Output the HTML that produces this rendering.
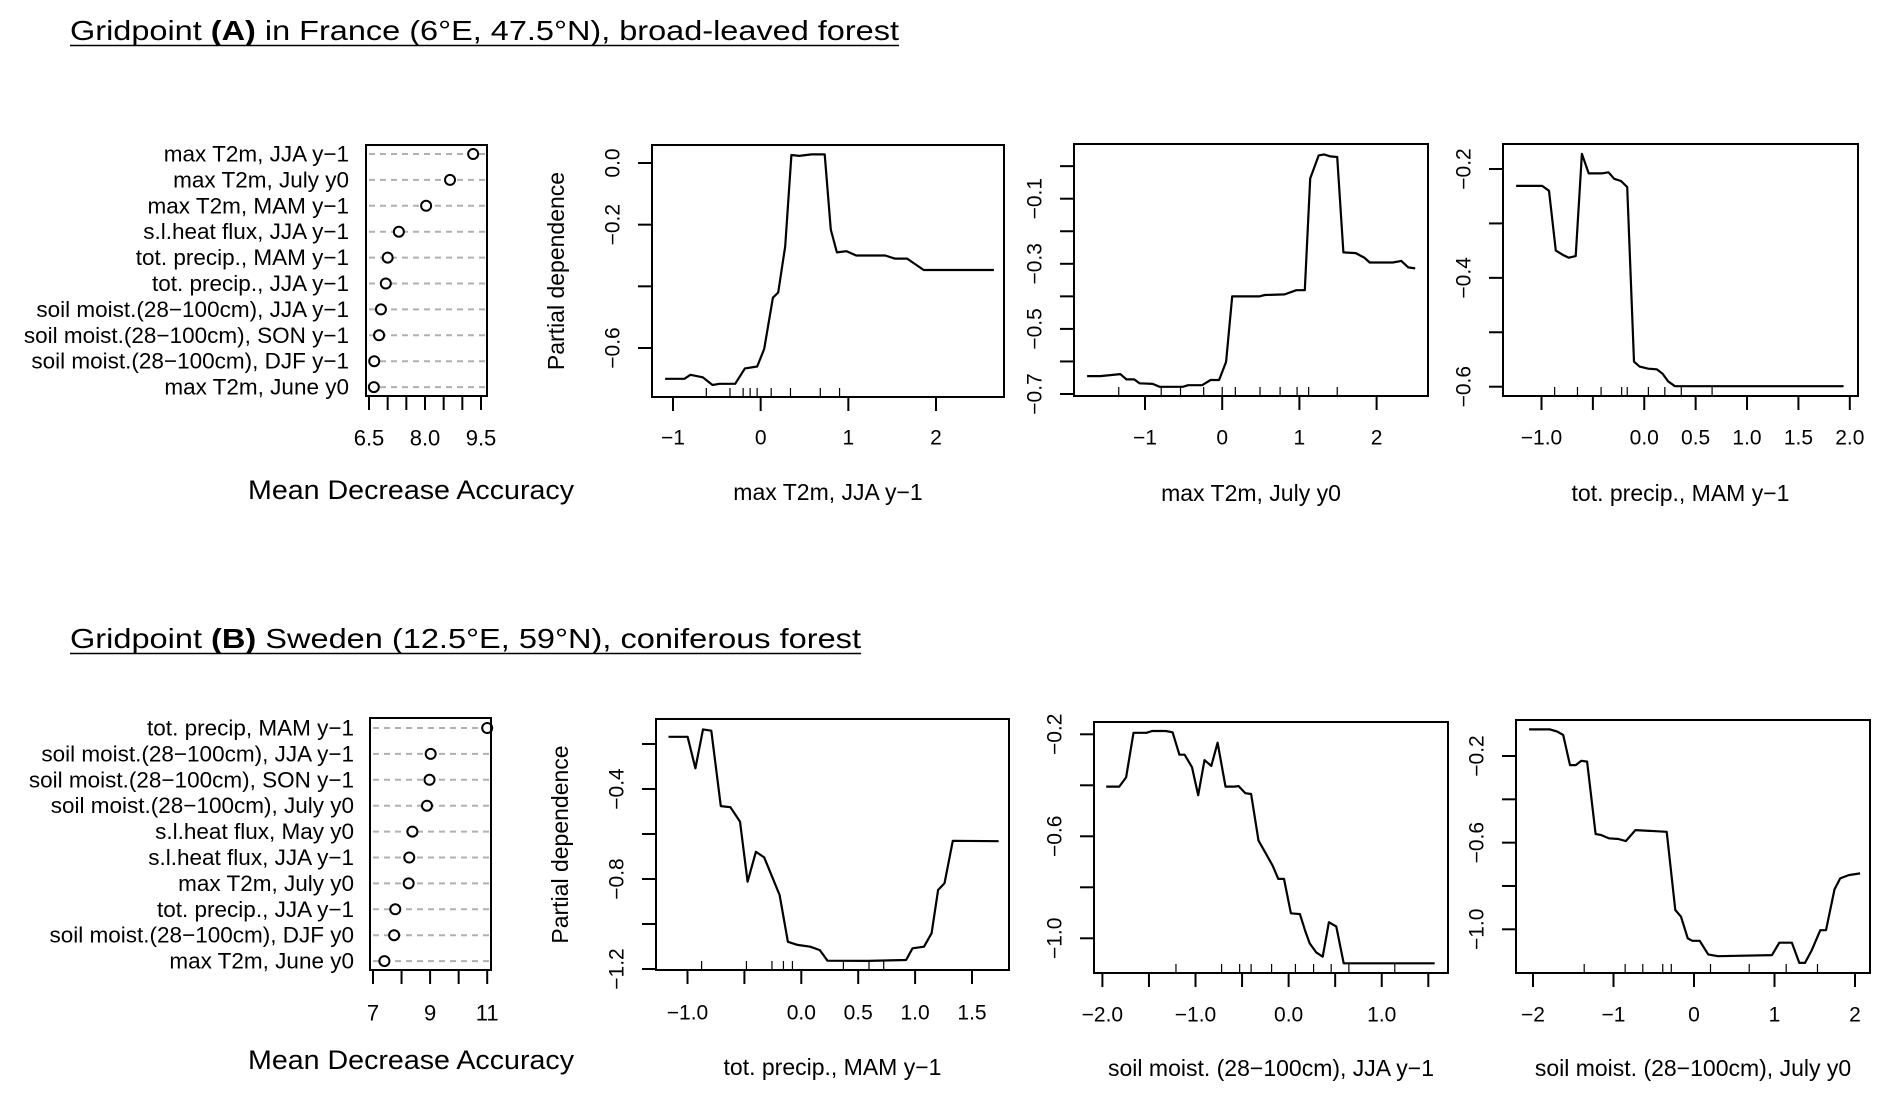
<!DOCTYPE html>
<html><head><meta charset="utf-8"><style>
html,body{margin:0;padding:0;background:#fff;}
svg{display:block;font-family:"Liberation Sans",Arial,sans-serif;}
</style></head><body>
<svg id="fig" width="1892" height="1101" viewBox="0 0 1892 1101" xmlns="http://www.w3.org/2000/svg">
<rect width="1892" height="1101" fill="#fff"/>
<text x="70" y="40" font-size="28" textLength="829" lengthAdjust="spacingAndGlyphs">Gridpoint <tspan font-weight="bold">(A)</tspan> in France (6°E, 47.5°N), broad-leaved forest</text>
<line x1="70" y1="45.5" x2="899" y2="45.5" stroke="#000" stroke-width="1.5"/>
<text x="70" y="648" font-size="28" textLength="791" lengthAdjust="spacingAndGlyphs">Gridpoint <tspan font-weight="bold">(B)</tspan> Sweden (12.5°E, 59°N), coniferous forest</text>
<line x1="70" y1="653.5" x2="861" y2="653.5" stroke="#000" stroke-width="1.5"/>
</svg>
<script>
// ---- Panel A data ----
const aDotLabels = ["max T2m, JJA y−1","max T2m, July y0","max T2m, MAM y−1","s.l.heat flux, JJA y−1","tot. precip., MAM y−1","tot. precip., JJA y−1","soil moist.(28−100cm), JJA y−1","soil moist.(28−100cm), SON y−1","soil moist.(28−100cm), DJF y−1","max T2m, June y0"];
const aDotValues = [9.29,8.67,8.03,7.30,7.00,6.95,6.82,6.77,6.64,6.63];
const aDotTicks = [6.5,7,7.5,8,8.5,9,9.5];
const aDotTickLabels = ["6.5","","","8.0","","","9.5"];

const a1X = [-1.09,-0.87,-0.80,-0.66,-0.55,-0.47,-0.29,-0.18,-0.04,0.04,0.14,0.20,0.28,0.35,0.44,0.58,0.73,0.80,0.87,0.98,1.09,1.42,1.53,1.67,1.86,2.66];
const a1Y = [-0.70,-0.70,-0.687,-0.695,-0.72,-0.716,-0.716,-0.666,-0.66,-0.603,-0.437,-0.42,-0.27,0.026,0.023,0.028,0.028,-0.216,-0.29,-0.286,-0.30,-0.30,-0.31,-0.31,-0.347,-0.347];
const a1Rug = [-0.62,-0.35,-0.2,-0.12,-0.04,0.12,0.34,0.68,0.9];
const a1XTicks = [-1,0,1,2];
const a1XTickLabels = ["−1","0","1","2"];
const a1YTicks = [0,-0.2,-0.4,-0.6];
const a1YTickLabels = ["0.0","−0.2","","−0.6"];

const a2X = [-1.75,-1.58,-1.32,-1.24,-1.14,-1.07,-0.90,-0.81,-0.51,-0.44,-0.26,-0.15,-0.04,0.05,0.13,0.48,0.55,0.81,0.96,1.07,1.14,1.25,1.32,1.40,1.49,1.57,1.73,1.84,1.91,2.21,2.32,2.41,2.50];
const a2Y = [-0.645,-0.645,-0.639,-0.655,-0.655,-0.667,-0.669,-0.678,-0.678,-0.673,-0.673,-0.657,-0.657,-0.601,-0.40,-0.40,-0.396,-0.394,-0.381,-0.381,-0.038,0.033,0.036,0.030,0.028,-0.265,-0.267,-0.281,-0.296,-0.296,-0.291,-0.311,-0.314];
const a2Rug = [-1.34,-0.79,-0.54,-0.24,0.0,0.17,0.49,0.75,0.97,1.12,1.49];
const a2XTicks = [-1,0,1,2];
const a2XTickLabels = ["−1","0","1","2"];
const a2YTicks = [-0.7,-0.6,-0.5,-0.4,-0.3,-0.2,-0.1,0.0];
const a2YTickLabels = ["−0.7","","−0.5","","−0.3","","−0.1",""];

const a3X = [-1.247,-0.993,-0.927,-0.861,-0.79,-0.734,-0.667,-0.607,-0.541,-0.414,-0.348,-0.293,-0.226,-0.166,-0.10,-0.045,0.039,0.121,0.177,0.232,0.298,0.92,1.94];
const a3Y = [-0.231,-0.231,-0.240,-0.350,-0.358,-0.363,-0.36,-0.172,-0.208,-0.208,-0.206,-0.218,-0.222,-0.233,-0.554,-0.563,-0.567,-0.568,-0.576,-0.590,-0.599,-0.599,-0.599];
const a3Rug = [-0.872,-0.65,-0.42,-0.22,-0.166,0.04,0.20,0.36,0.66];
const a3XTicks = [-1,-0.5,0,0.5,1,1.5,2];
const a3XTickLabels = ["−1.0","","0.0","0.5","1.0","1.5","2.0"];
const a3YTicks = [-0.2,-0.3,-0.4,-0.5,-0.6];
const a3YTickLabels = ["−0.2","","−0.4","","−0.6"];

// ---- Panel B data ----
const bDotLabels = ["tot. precip, MAM y−1","soil moist.(28−100cm), JJA y−1","soil moist.(28−100cm), SON y−1","soil moist.(28−100cm), July y0","s.l.heat flux, May y0","s.l.heat flux, JJA y−1","max T2m, July y0","tot. precip., JJA y−1","soil moist.(28−100cm), DJF y0","max T2m, June y0"];
const bDotValues = [11.0,9.02,8.98,8.89,8.38,8.27,8.25,7.78,7.74,7.40];
const bDotTicks = [7,8,9,10,11];
const bDotTickLabels = ["7","","9","","11"];

const b1X = [-1.167,-0.999,-0.931,-0.864,-0.791,-0.707,-0.623,-0.539,-0.472,-0.399,-0.326,-0.191,-0.118,-0.033,0.078,0.163,0.23,0.584,0.921,0.977,1.078,1.145,1.202,1.258,1.331,1.734];
const b1Y = [-0.168,-0.168,-0.308,-0.135,-0.141,-0.476,-0.481,-0.545,-0.812,-0.679,-0.704,-0.871,-1.079,-1.093,-1.101,-1.116,-1.163,-1.164,-1.16,-1.108,-1.101,-1.041,-0.849,-0.819,-0.630,-0.632];
const b1Rug = [-0.876,-0.482,-0.258,-0.157,-0.078,0.37,0.595,0.724];
const b1XTicks = [-1,-0.5,0,0.5,1,1.5];
const b1XTickLabels = ["−1.0","","0.0","0.5","1.0","1.5"];
const b1YTicks = [-0.2,-0.4,-0.6,-0.8,-1.0,-1.2];
const b1YTickLabels = ["","−0.4","","−0.8","","−1.2"];

const b2X = [-1.959,-1.818,-1.746,-1.666,-1.526,-1.466,-1.319,-1.246,-1.173,-1.117,-1.038,-0.971,-0.904,-0.831,-0.763,-0.678,-0.586,-0.537,-0.464,-0.403,-0.324,-0.245,-0.172,-0.111,-0.05,0.024,0.121,0.177,0.226,0.298,0.366,0.433,0.512,0.591,1.569];
const b2Y = [-0.405,-0.405,-0.369,-0.194,-0.194,-0.187,-0.187,-0.192,-0.28,-0.28,-0.329,-0.439,-0.301,-0.324,-0.233,-0.405,-0.405,-0.403,-0.431,-0.434,-0.617,-0.667,-0.715,-0.767,-0.767,-0.902,-0.905,-0.970,-1.02,-1.056,-1.072,-0.937,-0.954,-1.098,-1.098];
const b2Rug = [-1.21,-0.72,-0.526,-0.403,-0.183,0.073,0.268,0.457,0.647,1.14];
const b2XTicks = [-2,-1.5,-1,-0.5,0,0.5,1,1.5];
const b2XTickLabels = ["−2.0","","−1.0","","0.0","","1.0",""];
const b2YTicks = [-0.2,-0.4,-0.6,-0.8,-1.0];
const b2YTickLabels = ["−0.2","","−0.6","","−1.0"];

const b3X = [-2.048,-1.788,-1.696,-1.625,-1.540,-1.469,-1.399,-1.328,-1.222,-1.152,-1.060,-0.939,-0.847,-0.728,-0.339,-0.232,-0.162,-0.077,-0.021,0.071,0.176,0.297,0.969,1.060,1.216,1.308,1.379,1.463,1.569,1.640,1.745,1.816,1.922,2.063];
const b3Y = [-0.077,-0.077,-0.088,-0.103,-0.242,-0.242,-0.222,-0.226,-0.560,-0.565,-0.580,-0.583,-0.593,-0.542,-0.55,-0.911,-0.942,-1.042,-1.053,-1.053,-1.116,-1.124,-1.119,-1.062,-1.062,-1.155,-1.155,-1.096,-1.004,-1.004,-0.816,-0.765,-0.750,-0.742];
const b3Rug = [-1.364,-0.855,-0.636,-0.388,-0.282,0.205,0.686,1.145,1.534];
const b3XTicks = [-2,-1,0,1,2];
const b3XTickLabels = ["−2","−1","0","1","2"];
const b3YTicks = [-0.2,-0.4,-0.6,-0.8,-1.0];
const b3YTickLabels = ["−0.2","","−0.6","","−1.0"];

const NS = "http://www.w3.org/2000/svg";
const svg = document.getElementById('fig');
function mk(tag, attrs, parent){
  const e = document.createElementNS(NS, tag);
  for (const k in attrs) e.setAttribute(k, attrs[k]);
  (parent||svg).appendChild(e);
  return e;
}
function lin(d0,d1,p0,p1){ return v => p0 + (v-d0)*(p1-p0)/(d1-d0); }

function drawPD(id, layout, xs, ys, rug, xTicks, xTickLabels, yTicks, yTickLabels, xlab, showYlab){
  const g = mk('g', {});
  
  
  const [L,T,R,B] = layout.box;
  const sx = lin(layout.xc[0], layout.xc[1], layout.xc[2], layout.xc[3]);
  const sy = lin(layout.yc[0], layout.yc[1], layout.yc[2], layout.yc[3]);
  const box = mk('rect', {x:L,y:T,width:R-L,height:B-T,fill:'none',stroke:'#000','stroke-width':2}, g);
  
  
  xTicks.forEach((t,i)=>{
    const x = sx(t);
    const tk = mk('line', {x1:x,y1:B,x2:x,y2:B+14,stroke:'#000','stroke-width':2}, g);
    
    
    if (xTickLabels[i]) {
      const tl = mk('text', {x:x,y:layout.xly,'font-size':21,'text-anchor':'middle','dominant-baseline':'central'}, g);
      tl.textContent = xTickLabels[i];
      
      
    }
  });
  yTicks.forEach((t,i)=>{
    const y = sy(t);
    const tk = mk('line', {x1:L-14,y1:y,x2:L,y2:y,stroke:'#000','stroke-width':2}, g);
    
    
    if (yTickLabels[i]) {
      const lx = L-39;
      const tl = mk('text', {x:lx,y:y,'font-size':21,'text-anchor':'middle','dominant-baseline':'central',transform:`rotate(-90 ${lx} ${y})`}, g);
      tl.textContent = yTickLabels[i];
      
      
    }
  });
  rug.forEach(r=>{
    const x = sx(r);
    const rl = mk('line', {x1:x,y1:B,x2:x,y2:B-9,stroke:'#000','stroke-width':1.2}, g);
    
    
  });
  const pts = xs.map((x,i)=>sx(x).toFixed(1)+','+sy(ys[i]).toFixed(1)).join(' ');
  const pl = mk('polyline', {points:pts,fill:'none',stroke:'#000','stroke-width':2.2,'stroke-linejoin':'round'}, g);
  
  
  const xl = mk('text', {x:(L+R)/2,y:layout.xlaby,'font-size':23,'text-anchor':'middle','dominant-baseline':'central'}, g);
  xl.textContent = xlab;
  
  
  if (showYlab) {
    const yx = L-96, yy = (T+B)/2;
    const yl = mk('text', {x:yx,y:yy,'font-size':23,'text-anchor':'middle','dominant-baseline':'central',transform:`rotate(-90 ${yx} ${yy})`}, g);
    yl.textContent = 'Partial dependence';
    
    
  }
}

function drawDot(id, layout, labels, values, ticks, tickLabels){
  const g = mk('g', {});
  
  
  const [L,T,R,B] = layout.box;
  const sx = lin(layout.xc[0], layout.xc[1], layout.xc[2], layout.xc[3]);
  labels.forEach((lab,i)=>{
    const y = layout.row0 + i*layout.rowStep;
    const gl = mk('line', {x1:L+3,y1:y,x2:R-2,y2:y,stroke:'#b0b0b0','stroke-width':2,'stroke-dasharray':'6,5'}, g);
    
    
    const t = mk('text', {x:layout.labRight,y:y,'font-size':22.5,'text-anchor':'end','dominant-baseline':'central'}, g);
    t.textContent = lab;
    
    
    const c = mk('circle', {cx:sx(values[i]),cy:y,r:5,fill:'#fff',stroke:'#000','stroke-width':2}, g);
    
    
  });
  const box = mk('rect', {x:L,y:T,width:R-L,height:B-T,fill:'none',stroke:'#000','stroke-width':2}, g);
  
  
  ticks.forEach((t,i)=>{
    const x = sx(t);
    const tk = mk('line', {x1:x,y1:B,x2:x,y2:B+14,stroke:'#000','stroke-width':2}, g);
    
    
    if (tickLabels[i]) {
      const tl = mk('text', {x:x,y:layout.xly,'font-size':22,'text-anchor':'middle','dominant-baseline':'central'}, g);
      tl.textContent = tickLabels[i];
      
      
    }
  });
  const xl = mk('text', {x:248,y:layout.xlaby,'font-size':27,textLength:326,lengthAdjust:'spacingAndGlyphs'}, g);
  xl.textContent = 'Mean Decrease Accuracy';
  
  
}

drawDot('importance-chart-a', {box:[366,145,487,396],xc:[6.5,9.5,369,481],row0:154,rowStep:25.9,labRight:349,xly:438,xlaby:499}, aDotLabels, aDotValues, aDotTicks, aDotTickLabels);
drawDot('importance-chart-b', {box:[370,718,491,970],xc:[7,11,373,487.2],row0:728,rowStep:25.9,labRight:354,xly:1013,xlaby:1069}, bDotLabels, bDotValues, bDotTicks, bDotTickLabels);

drawPD('pd-a-max-t2m-jja', {box:[652,145,1004,397],xc:[-1,2,673,936],yc:[0,-0.6,163,348],xly:438,xlaby:492}, a1X, a1Y, a1Rug, a1XTicks, a1XTickLabels, a1YTicks, a1YTickLabels, 'max T2m, JJA y−1', true);
drawPD('pd-a-max-t2m-july', {box:[1074,144,1428,396],xc:[-1,2,1145,1376.6],yc:[-0.7,-0.1,394,198.7],xly:438,xlaby:493}, a2X, a2Y, a2Rug, a2XTicks, a2XTickLabels, a2YTicks, a2YTickLabels, 'max T2m, July y0', false);
drawPD('pd-a-tot-precip-mam', {box:[1503,144,1858,396],xc:[-1,2,1541.5,1849.8],yc:[-0.2,-0.6,169,386.7],xly:438,xlaby:493}, a3X, a3Y, a3Rug, a3XTicks, a3XTickLabels, a3YTicks, a3YTickLabels, 'tot. precip., MAM y−1', false);

drawPD('pd-b-tot-precip-mam', {box:[656,719,1009,970],xc:[-1,1.5,687.5,972],yc:[-0.2,-1.2,744,969],xly:1013,xlaby:1067}, b1X, b1Y, b1Rug, b1XTicks, b1XTickLabels, b1YTicks, b1YTickLabels, 'tot. precip., MAM y−1', true);
drawPD('pd-b-soil-moist-jja', {box:[1094,722,1448,973],xc:[-2,1.5,1102.4,1428.3],yc:[-0.2,-1.0,734.3,938.3],xly:1015,xlaby:1068}, b2X, b2Y, b2Rug, b2XTicks, b2XTickLabels, b2YTicks, b2YTickLabels, 'soil moist. (28−100cm), JJA y−1', false);
drawPD('pd-b-soil-moist-july', {box:[1516,720,1870,973],xc:[-2,2,1533,1855],yc:[-0.2,-1.0,756,929.3],xly:1015,xlaby:1068}, b3X, b3Y, b3Rug, b3XTicks, b3XTickLabels, b3YTicks, b3YTickLabels, 'soil moist. (28−100cm), July y0', false);
</script>
</body></html>
